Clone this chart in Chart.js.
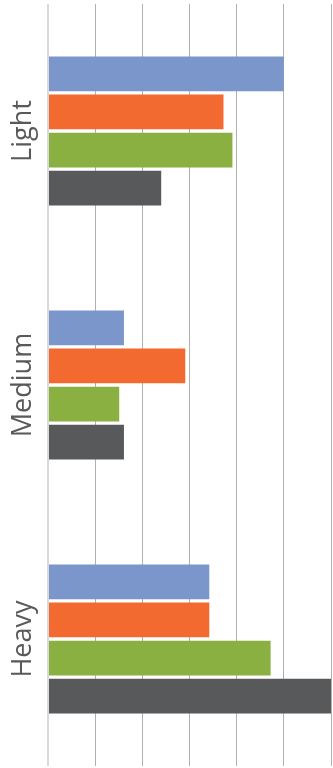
<!DOCTYPE html>
<html>
<head>
<meta charset="utf-8">
<script src="https://cdn.jsdelivr.net/npm/chart.js@4/dist/chart.umd.min.js"></script>
<style>
  html, body { margin: 0; padding: 0; background: #fff; }
  #wrap { width: 333px; height: 768px; }
</style>
</head>
<body>
<div id="wrap"><canvas id="chart" width="333" height="768"></canvas></div>
<script>
const categories = ["Light", "Medium", "Heavy"];
const seriesNames = ["Series 1", "Series 2", "Series 3", "Series 4"];
const series1 = [5.0, 1.61, 3.42];
const series2 = [3.72, 2.91, 3.42];
const series3 = [3.91, 1.51, 4.72];
const series4 = [2.4, 1.61, 6.0];
const colors = ["#7b96cb", "#f26a30", "#8ab042", "#58595b"];

// rotated category labels, placed on the y scale's own tick positions
const sideLabels = {
  id: "sideLabels",
  afterDraw(chart) {
    const ctx = chart.ctx;
    const y = chart.scales.y;
    ctx.save();
    ctx.fillStyle = "#595959";
    ctx.font = '27px "Open Sans"';
    ctx.textAlign = "center";
    ctx.textBaseline = "alphabetic";
    categories.forEach((c, i) => {
      ctx.save();
      ctx.translate(31, y.getPixelForValue(i));
      ctx.rotate(-Math.PI / 2);
      ctx.fillText(c, 0, 0);
      ctx.restore();
    });
    ctx.restore();
  }
};

new Chart(document.getElementById("chart"), {
  type: "bar",
  data: {
    labels: categories,
    datasets: [series1, series2, series3, series4].map((d, i) => ({
      label: seriesNames[i],
      data: d,
      backgroundColor: colors[i],
      borderWidth: 0,
      categoryPercentage: 0.6,
      barPercentage: 0.91,
    })),
  },
  options: {
    indexAxis: "y",
    responsive: false,
    devicePixelRatio: 1,
    animation: false,
    layout: { padding: { left: 48, right: 2, top: 4, bottom: 2 } },
    plugins: {
      legend: { display: false },
      tooltip: { enabled: false },
    },
    scales: {
      x: {
        min: 0,
        max: 6,
        ticks: { display: false, stepSize: 1 },
        border: { display: false },
        grid: {
          drawTicks: false,
          color: (c) => (c.index === 0 ? "#d9d9d9" : "#b0b0b0"),
          lineWidth: (c) => (c.index === 0 ? 2 : 1),
        },
        afterFit: (s) => { s.height = 0; },
      },
      y: {
        display: false,
        grid: { display: false },
      },
    },
  },
  plugins: [sideLabels],
});
</script>
</body>
</html>
